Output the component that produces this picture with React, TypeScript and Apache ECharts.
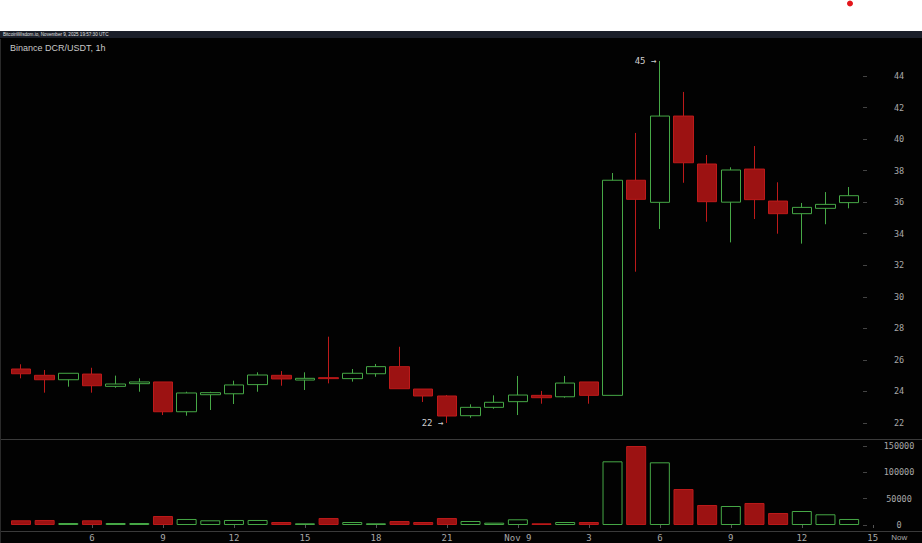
import React, { useEffect, useRef } from "react";
import * as echarts from "echarts";

// Hour of each candle, counted from Nov 8 00:00 (1h candles)
const hours = [3, 4, 5, 6, 7, 8, 9, 10, 11, 12, 13, 14, 15, 16, 17, 18, 19, 20, 21, 22, 23, 24, 25, 26, 27, 28, 29, 30, 31, 32, 33, 34, 35, 36, 37, 38];
const opens = [25.42, 25.02, 24.74, 25.1, 24.32, 24.49, 24.6, 22.71, 23.79, 23.85, 24.43, 25.02, 24.72, 24.87, 24.81, 25.12, 25.57, 24.15, 23.71, 22.46, 22.99, 23.35, 23.75, 23.66, 24.6, 23.75, 37.39, 35.99, 41.46, 38.42, 36.0, 38.1, 36.07, 35.27, 35.61, 35.97];
const closes = [25.12, 24.74, 25.15, 24.36, 24.47, 24.6, 22.71, 23.9, 23.92, 24.41, 25.04, 24.79, 24.83, 24.81, 25.15, 25.57, 24.17, 23.71, 22.44, 22.99, 23.31, 23.77, 23.6, 24.53, 23.75, 37.39, 36.18, 41.46, 38.5, 36.03, 38.04, 36.16, 35.27, 35.67, 35.86, 36.41];
const lows = [24.83, 23.92, 24.3, 23.92, 24.23, 23.98, 22.5, 22.46, 22.82, 23.2, 23.98, 24.36, 24.09, 24.51, 24.62, 24.93, 24.17, 23.33, 22.0, 22.33, 22.9, 22.5, 23.22, 23.6, 23.22, 23.75, 31.59, 34.3, 37.23, 34.76, 33.45, 34.93, 34.0, 33.37, 34.6, 35.61];
const highs = [25.72, 25.36, 25.15, 25.5, 25.0, 24.83, 24.6, 23.98, 23.98, 24.68, 25.21, 25.29, 25.21, 27.47, 25.42, 25.74, 26.83, 24.15, 23.77, 23.18, 23.75, 24.98, 24.03, 24.98, 24.6, 37.85, 40.39, 44.95, 42.99, 38.99, 38.21, 39.56, 37.26, 35.95, 36.64, 36.96];
const volumes = [8900, 9500, 3800, 8900, 3800, 3800, 17000, 11400, 8900, 9500, 9500, 5700, 3200, 13300, 5700, 3200, 7600, 5700, 13300, 7600, 4400, 10800, 3200, 5700, 5700, 120600, 149600, 118700, 68200, 37900, 36000, 41700, 22700, 26500, 20300, 11400];

const tickHours = [6, 9, 12, 15, 18, 21, 24, 27, 30, 33, 36, 39, 40.12];
const tickLabels = ["6", "9", "12", "15", "18", "21", "Nov 9", "3", "6", "9", "12", "15", "Now"];
const priceTicks = [22, 24, 26, 28, 30, 32, 34, 36, 38, 40, 42, 44];
const volumeTicks = [0, 50000, 100000, 150000];

const titleText = "Binance DCR/USDT, 1h";
const stampText = "BitcoinWisdom.io, November 9, 2025 19:57:30 UTC";

const GREEN = "#46a846";
const RED_FILL = "#9c1212";
const RED_BORDER = "#bd1a1a";
const MONO = "'DejaVu Sans Mono', 'Liberation Mono', monospace";
const SANS = "'Liberation Sans', Arial, sans-serif";
const LABEL = "#a8a8a8";

export default function App() {
  const ref = useRef<HTMLDivElement>(null);

  useEffect(() => {
    if (!ref.current) return;
    const chart = echarts.init(ref.current, undefined, { renderer: "svg" });

    let iMax = 0;
    let iMin = 0;
    highs.forEach((h, i) => {
      if (h > highs[iMax]) iMax = i;
    });
    lows.forEach((l, i) => {
      if (l < lows[iMin]) iMin = i;
    });

    const xMin = 2.5;
    const xMax = 41.08;

    const option: any = {
      animation: false,
      backgroundColor: "transparent",
      title: {
        text: titleText,
        left: 10,
        top: 43,
        padding: 0,
        textStyle: { color: "#c8c8c8", fontSize: 9, fontWeight: "normal", fontFamily: SANS },
      },
      graphic: [
        {
          type: "text",
          left: 3,
          top: 32,
          style: { text: stampText, fill: "#e0e0e0", fontSize: 4.6, fontFamily: SANS },
        },
        {
          type: "circle",
          shape: { cx: 850, cy: 3.5, r: 3 },
          style: { fill: "#e3161b" },
        },
        {
          type: "line",
          shape: { x1: 0, y1: 439.5, x2: 922, y2: 439.5 },
          style: { stroke: "#3a3a3a", lineWidth: 1 },
        },
        {
          type: "line",
          shape: { x1: 0, y1: 531.5, x2: 922, y2: 531.5 },
          style: { stroke: "#3a3a3a", lineWidth: 1 },
        },
        {
          type: "line",
          shape: { x1: 0.5, y1: 39, x2: 0.5, y2: 543 },
          style: { stroke: "#2a2a2a", lineWidth: 1 },
        },
      ],
      grid: [
        { left: 9.17, right: 0, top: 40, height: 399 },
        { left: 9.17, right: 0, top: 439, height: 92 },
      ],
      xAxis: [
        {
          type: "value",
          gridIndex: 0,
          min: xMin,
          max: xMax,
          show: false,
          splitLine: { show: false },
        },
        {
          type: "value",
          gridIndex: 1,
          min: xMin,
          max: xMax,
          splitLine: { show: false },
          axisLine: { show: false },
          axisTick: {
            show: true,
            length: 3,
            inside: false,
            lineStyle: { color: "#555" },
            customValues: tickHours.slice(0, 12),
          },
          axisLabel: {
            show: true,
            margin: 2,
            color: LABEL,
            fontSize: 9,
            fontFamily: MONO,
            customValues: tickHours,
            formatter: (v: number) => {
              const idx = tickHours.indexOf(v);
              if (idx < 0) return "";
              const t = tickLabels[idx];
              return t === "Now" ? "{now|" + t + "}" : t;
            },
            rich: {
              now: { fontFamily: SANS, fontSize: 8, color: LABEL },
            },
          },
        },
      ],
      yAxis: [
        {
          type: "value",
          gridIndex: 0,
          position: "right",
          offset: -59,
          min: 20.982,
          max: 46.283,
          splitLine: { show: false },
          axisLine: { show: false },
          axisTick: { show: true, length: 4, lineStyle: { color: "#444" }, customValues: priceTicks },
          axisLabel: {
            show: true,
            align: "center",
            margin: 36,
            color: LABEL,
            fontSize: 8.5,
            fontFamily: MONO,
            customValues: priceTicks,
            formatter: (v: number) => String(v),
          },
        },
        {
          type: "value",
          gridIndex: 1,
          position: "right",
          offset: -59,
          min: -11364,
          max: 162879,
          splitLine: { show: false },
          axisLine: { show: false },
          axisTick: { show: true, length: 4, lineStyle: { color: "#444" }, customValues: volumeTicks },
          axisLabel: {
            show: true,
            align: "center",
            margin: 36,
            color: LABEL,
            fontSize: 8.5,
            fontFamily: MONO,
            customValues: volumeTicks,
            formatter: (v: number) => String(v),
          },
        },
      ],
      series: [
        {
          type: "candlestick",
          xAxisIndex: 0,
          yAxisIndex: 0,
          barWidth: 20,
          encode: { x: 0, y: [1, 2, 3, 4] },
          data: hours.map((h, i) => [h, opens[i], closes[i], lows[i], highs[i]]),
          itemStyle: {
            color: "rgba(0,0,0,0)",
            color0: RED_FILL,
            borderColor: GREEN,
            borderColor0: RED_BORDER,
            borderWidth: 1,
          },
          markPoint: {
            symbol: "rect",
            symbolSize: 1,
            itemStyle: { color: "rgba(0,0,0,0)" },
            label: {
              show: true,
              position: "left",
              distance: 3,
              color: "#cfcfcf",
              fontSize: 9,
              fontFamily: MONO,
              formatter: (p: any) => p.value + " \u2192",
            },
            data: [
              { coord: [hours[iMax], highs[iMax]], value: Math.round(highs[iMax]) },
              { coord: [hours[iMin], lows[iMin]], value: Math.round(lows[iMin]) },
            ],
          },
        },
        {
          type: "bar",
          xAxisIndex: 1,
          yAxisIndex: 1,
          barWidth: 20,
          data: hours.map((h, i) => ({
            value: [h, volumes[i]],
            itemStyle:
              closes[i] >= opens[i]
                ? { color: "rgba(0,0,0,0)", borderColor: GREEN, borderWidth: 1 }
                : { color: RED_FILL, borderColor: RED_BORDER, borderWidth: 1 },
          })),
        },
      ],
    };

    chart.setOption(option);
    return () => chart.dispose();
  }, []);

  return (
    <div
      ref={ref}
      style={{
        position: "fixed",
        left: 0,
        top: 0,
        width: 922,
        height: 543,
        background: "linear-gradient(#ffffff 0px, #ffffff 31px, #1b1f2a 31px, #1b1f2a 38.5px, #020202 38.5px)",
      }}
    />
  );
}
